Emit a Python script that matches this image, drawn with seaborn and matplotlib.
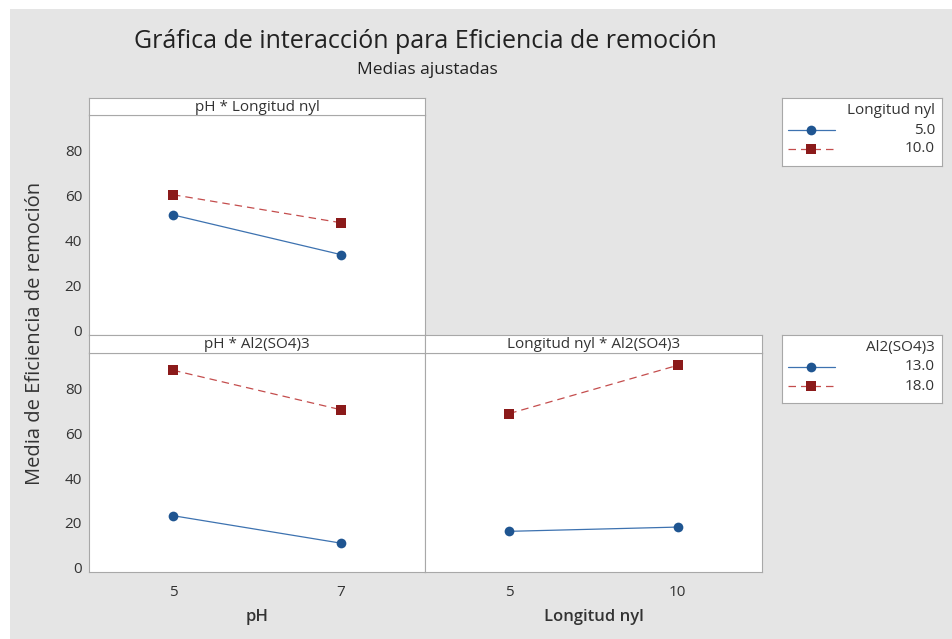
import pandas as pd
import matplotlib.pyplot as plt
import seaborn as sns
from matplotlib.patches import Rectangle

# niveles de los factores
ph_levels = [5, 7]
longitud_levels = [5, 10]
longitud_labels = ['5.0', '10.0']
al_labels = ['13.0', '18.0']

# medias ajustadas
ph_by_longitud_5 = [51.5, 33.8]
ph_by_longitud_10 = [60.5, 48.0]
ph_by_al_13 = [23.2, 10.9]
ph_by_al_18 = [88.3, 70.6]
longitud_by_al_13 = [16.2, 18.1]
longitud_by_al_18 = [68.9, 90.5]

W, H = 952, 639
GREY_BG = '#e5e5e5'
BORDER = '#a8a8a8'
TXT = '#333333'
line_colors = ['#3d72b0', '#c44d4d']
marker_colors = ['#1f5591', '#8b1a1a']

sns.set_theme(style='white')
plt.rcParams['font.family'] = ['Open Sans', 'DejaVu Sans']


def fbox(x0, y0, x1, y1):
    # pixel box -> figure fraction [left, bottom, width, height]
    return [x0 / W, 1 - y1 / H, (x1 - x0) / W, (y1 - y0) / H]


def long_df(x, a, b, labels, xname):
    return pd.DataFrame({xname: x + x, 'media': a + b,
                         'nivel': [labels[0]] * len(x) + [labels[1]] * len(x)})


df_ph_long = long_df(ph_levels, ph_by_longitud_5, ph_by_longitud_10, longitud_labels, 'pH')
df_ph_al = long_df(ph_levels, ph_by_al_13, ph_by_al_18, al_labels, 'pH')
df_long_al = long_df(longitud_levels, longitud_by_al_13, longitud_by_al_18, al_labels, 'Longitud nyl')

fig = plt.figure(figsize=(W / 100, H / 100), dpi=100, facecolor='white')
fig.patches.append(Rectangle((10 / W, 0), 1, 1 - 9 / H, transform=fig.transFigure,
                             facecolor=GREY_BG, edgecolor='none', zorder=-5))


def style_axes(ax):
    ax.set_facecolor('white')
    for s in ax.spines.values():
        s.set_color(BORDER)
        s.set_linewidth(0.8)
        s.set_visible(True)


def panel(box, df, xname, labels, xlim, xticks):
    ax = fig.add_axes(fbox(*box))
    style_axes(ax)
    sns.lineplot(data=df, x=xname, y='media', hue='nivel', style='nivel',
                 hue_order=labels, style_order=labels,
                 palette=dict(zip(labels, line_colors)),
                 markers=dict(zip(labels, ['o', 's'])),
                 dashes=dict(zip(labels, ['', (6, 4)])),
                 markersize=7, linewidth=0.9, markeredgewidth=0,
                 legend=False, ax=ax)
    for line, mc in zip(ax.lines, marker_colors):
        line.set_markerfacecolor(mc)
    ax.set_xlim(*xlim)
    ax.set_xticks(xticks)
    ax.set_ylim(-2, 96)
    ax.set_yticks([0, 20, 40, 60, 80])
    ax.set_xlabel('')
    ax.set_ylabel('')
    ax.tick_params(direction='out', length=3, width=0.6, color=BORDER,
                   labelcolor=TXT, labelsize=11, pad=2)
    ax.tick_params(axis='x', pad=6)
    return ax


def strip(box, text):
    sx = fig.add_axes(fbox(*box))
    style_axes(sx)
    sx.set_xticks([])
    sx.set_yticks([])
    sx.text(0.5, 0.45, text, ha='center', va='center', fontsize=11, color=TXT,
            transform=sx.transAxes)


ax_tl = panel((89, 115, 425, 335), df_ph_long, 'pH', longitud_labels, (4, 8), ph_levels)
ax_bl = panel((89, 353, 425, 572), df_ph_al, 'pH', al_labels, (4, 8), ph_levels)
ax_br = panel((425, 353, 762, 572), df_long_al, 'Longitud nyl', al_labels, (2.5, 12.5), longitud_levels)

ax_tl.tick_params(axis='x', bottom=False, labelbottom=False)
ax_br.tick_params(axis='y', left=False, labelleft=False)

strip((89, 98, 425, 115), 'pH * Longitud nyl')
strip((89, 335, 425, 353), 'pH * Al2(SO4)3')
strip((425, 335, 762, 353), 'Longitud nyl * Al2(SO4)3')

ax_bl.set_xlabel('pH', fontsize=12, fontweight='semibold', color=TXT, labelpad=7)
ax_br.set_xlabel('Longitud nyl', fontsize=12, fontweight='semibold', color=TXT, labelpad=7)

fig.text(35 / W, 1 - 333 / H, 'Media de Eficiencia de remoción', rotation=90,
         ha='center', va='center', fontsize=14.5, color=TXT)
fig.text(425 / W, 1 - 42 / H, 'Gráfica de interacción para Eficiencia de remoción',
         ha='center', va='center', fontsize=18, color='#222222')
fig.text(427 / W, 1 - 70 / H, 'Medias ajustadas', ha='center', va='center',
         fontsize=12.5, color='#222222')


def legend_box(top, title, labels):
    h = 68
    lx = fig.add_axes(fbox(782, top, 942, top + h))
    style_axes(lx)
    lx.set_xlim(0, 160)
    lx.set_ylim(h, 0)
    lx.set_xticks([])
    lx.set_yticks([])
    lx.text(153, 12, title, ha='right', va='center', fontsize=11, color=TXT)
    rows = [32, 51]
    for y, lab, lc, mc, m, ls in zip(rows, labels, line_colors, marker_colors,
                                     ['o', 's'], ['-', (0, (6, 4))]):
        lx.plot([6, 53], [y, y], color=lc, lw=0.9, linestyle=ls)
        lx.plot([29], [y], marker=m, color=mc, markersize=7, markeredgewidth=0)
        lx.text(153, y, lab, ha='right', va='center', fontsize=11, color=TXT)


legend_box(98, 'Longitud nyl', longitud_labels)
legend_box(335, 'Al2(SO4)3', al_labels)

fig.savefig('out.png', dpi=100, facecolor=fig.get_facecolor())
